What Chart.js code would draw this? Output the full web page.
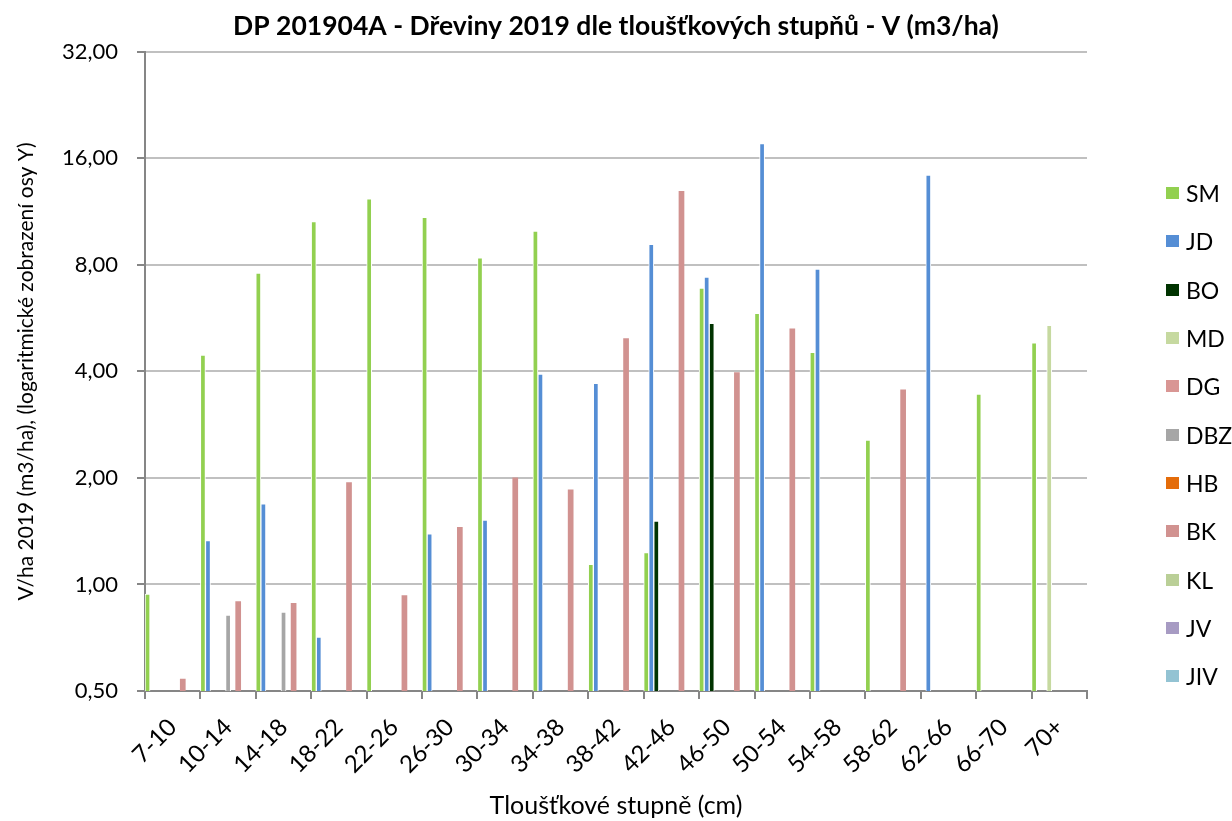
<!DOCTYPE html>
<html lang="cs">
<head>
<meta charset="utf-8">
<title>DP 201904A - Dřeviny 2019 dle tloušťkových stupňů</title>
<script src="https://cdn.jsdelivr.net/npm/chart.js@4.4.1/dist/chart.umd.min.js"></script>
<style>
  html, body { margin: 0; padding: 0; background: #fff; }
  #wrap { position: relative; width: 1232px; height: 821px; }
  #legend { position: absolute; left: 1166px; top: 169px; font: 23px Lato, sans-serif; color: #000; }
  #legend div { height: 48.3px; display: flex; align-items: center; }
  #legend span { display: inline-block; width: 13px; height: 12px; margin-right: 7px; }
</style>
</head>
<body>
<div id="wrap">
  <canvas id="chart"></canvas>
  <div id="legend"></div>
</div>
<script>
// tloušťkové stupně
const categories = ['7-10', '10-14', '14-18', '18-22', '22-26', '26-30', '30-34', '34-38', '38-42',
  '42-46', '46-50', '50-54', '54-58', '58-62', '62-66', '66-70', '70+'];

const species = ['SM', 'JD', 'BO', 'MD', 'DG', 'DBZ', 'HB', 'BK', 'KL', 'JV', 'JIV'];
const colors = ['#92D050', '#558ED5', '#003300', '#C6D9A0', '#D99694', '#A6A6A6',
  '#E46C0A', '#D19290', '#BACF97', '#A79BC3', '#93C3D3'];

// V/ha 2019 (m3/ha), null = bez hodnoty
const SM = [0.94, 4.45, 7.58, 10.6, 12.3, 10.9, 8.37, 9.97, 1.14, 1.23, 6.88, 5.84, 4.53, 2.56, null, 3.45, 4.82];
const JD = [null, 1.33, 1.69, 0.71, null, 1.39, 1.52, 3.93, 3.70, 9.14, 7.39, 17.6, 7.78, null, 14.35, null, null];
const BO = [null, null, null, null, null, null, null, null, null, 1.51, 5.47, null, null, null, null, null, null];
const MD = [null, null, null, null, null, null, null, null, null, null, null, null, null, null, null, null, 5.4];
const DG = [null, null, null, null, null, null, null, null, null, null, null, null, null, null, null, null, null];
const DBZ = [null, 0.82, 0.835, null, null, null, null, null, null, null, null, null, null, null, null, null, null];
const HB = [null, null, null, null, null, null, null, null, null, null, null, null, null, null, null, null, null];
const BK = [0.54, 0.895, 0.884, 1.94, 0.93, 1.45, 2.0, 1.85, 4.95, 12.9, 3.97, 5.28, null, 3.55, null, null, null];
const KL = [null, null, null, null, null, null, null, null, null, null, null, null, null, null, null, null, null];
const JV = [null, null, null, null, null, null, null, null, null, null, null, null, null, null, null, null, null];
const JIV = [null, null, null, null, null, null, null, null, null, null, null, null, null, null, null, null, null];

const seriesValues = [SM, JD, BO, MD, DG, DBZ, HB, BK, KL, JV, JIV];
const yTicks = [0.5, 1, 2, 4, 8, 16, 32];

Chart.defaults.font.family = 'Lato, sans-serif';
Chart.defaults.color = '#000';

const datasets = species.map((name, i) => ({
  label: name,
  data: seriesValues[i],
  backgroundColor: colors[i],
  borderColor: '#fff',
  borderWidth: name === 'BK' ? 0 : 1,
  categoryPercentage: 1,
  barPercentage: 1
}));

const ctx = document.getElementById('chart').getContext('2d');
new Chart(ctx, {
  type: 'bar',
  data: { labels: categories, datasets },
  options: {
    responsive: true,
    maintainAspectRatio: false,
    animation: false,
    plugins: {
      legend: { display: false },
      tooltip: { enabled: false },
      title: {
        display: true,
        text: 'DP 201904A - Dřeviny 2019 dle tloušťkových stupňů - V (m3/ha)',
        font: { size: 26.5, weight: 'bold' },
        padding: { top: 11, bottom: 9 }
      }
    },
    scales: {
      x: {
        afterFit: s => { s.height = 130; },
        ticks: { font: { size: 24 }, minRotation: 45, maxRotation: 45, padding: 14, autoSkip: false },
        grid: { drawOnChartArea: false, offset: true, tickColor: '#868686', tickLength: 8, lineWidth: 2 },
        border: { color: '#868686', width: 2 },
        title: { display: true, text: 'Tloušťkové stupně (cm)', font: { size: 25 }, padding: { bottom: 0 } }
      },
      y: {
        type: 'logarithmic',
        min: 0.5,
        max: 32,
        afterBuildTicks: s => { s.ticks = yTicks.map(v => ({ value: v })); },
        afterFit: s => { s.width = 145; },
        ticks: { font: { size: 22 }, padding: 19, callback: v => v.toFixed(2).replace('.', ',') },
        grid: { color: '#C0C0C0', lineWidth: 2, tickColor: '#868686', tickLength: 8 },
        border: { color: '#868686', width: 2 },
        title: {
          display: true,
          text: 'V/ha 2019 (m3/ha), (logaritmické zobrazení osy Y)',
          font: { size: 21 },
          padding: { top: 14 }
        }
      },
      // prázdná osa vpravo jen kvůli místu pro legendu
      legendSpace: {
        type: 'linear',
        position: 'right',
        afterFit: s => { s.width = 145; },
        grid: { display: false },
        ticks: { display: false },
        border: { display: false }
      }
    }
  }
});

// legenda vpravo
const legend = document.getElementById('legend');
species.forEach((name, i) => {
  const row = document.createElement('div');
  row.innerHTML = '<span style="background:' + colors[i] + '"></span>' + name;
  legend.appendChild(row);
});
</script>
</body>
</html>
